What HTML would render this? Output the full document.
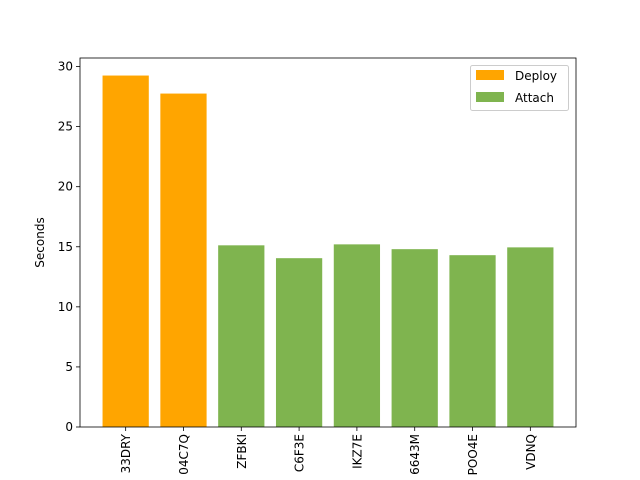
<!DOCTYPE html>
<html><head><meta charset="utf-8"><style>body{margin:0;background:#fff;overflow:hidden}svg{display:block;font-family:"DejaVu Sans","Liberation Sans",sans-serif}</style></head>
<body>
<svg id="chart" width="640" height="480" viewBox="0 0 640 480"></svg>
<script>
const categories = ["33DRY","04C7Q","ZFBKI","C6F3E","IKZ7E","6643M","POO4E","VDNQ"];
const values = [29.25, 27.75, 15.12, 14.05, 15.2, 14.8, 14.3, 14.95];
const groups = ["Deploy","Deploy","Attach","Attach","Attach","Attach","Attach","Attach"];
const yTicks = [0,5,10,15,20,25,30];
const legendLabels = ["Deploy","Attach"];
const colors = {Deploy:"#ffa500", Attach:"#7fb44f"};

const NS="http://www.w3.org/2000/svg";
const svg=document.getElementById('chart');
const L=80,R=576,T=58,B=427;
const xmin=-0.79,xmax=categories.length-1+0.79;
const ymax=30.71;
function xs(i){return L+(i-xmin)/(xmax-xmin)*(R-L);}
function ys(v){return B-v/ymax*(B-T);}
function el(tag,attrs,parent){const e=document.createElementNS(NS,tag);for(const k in attrs)e.setAttribute(k,attrs[k]);(parent||svg).appendChild(e);return e;}
const bw=0.8*(R-L)/(xmax-xmin);
categories.forEach((c,i)=>{
  const r=el('rect',{x:xs(i)-bw/2,y:ys(values[i]),width:bw,height:B-ys(values[i]),fill:colors[groups[i]]});
  
  
  el('line',{x1:xs(i),x2:xs(i),y1:B,y2:B+4,stroke:'#000','stroke-width':0.8});
  const t=el('text',{x:0,y:0,transform:`translate(${xs(i)+4.5},${B+7}) rotate(-90)`,'text-anchor':'end','font-size':12});
  t.textContent=c;
  
  
});
yTicks.forEach(v=>{
  el('line',{x1:L-4,x2:L,y1:ys(v),y2:ys(v),stroke:'#000','stroke-width':0.8});
  const t=el('text',{x:L-7,y:ys(v)+4,'text-anchor':'end','font-size':12});
  t.textContent=v;
  
  
});
const frame=el('rect',{x:L,y:T,width:R-L,height:B-T,fill:'none',stroke:'#000','stroke-width':0.8});


const yl=el('text',{x:0,y:0,transform:`translate(44,${(T+B)/2}) rotate(-90)`,'text-anchor':'middle','font-size':12});
yl.textContent='Seconds';


const lg=el('g',{});


el('rect',{x:470.5,y:65.5,width:98,height:45,rx:2,fill:'#fff',stroke:'#ccc'},lg);
legendLabels.forEach((s,j)=>{
  const y=70+j*22;
  el('rect',{x:476,y:y,width:28,height:10,fill:colors[s]},lg);
  const t=el('text',{x:515,y:y+10,'font-size':12},lg);
  t.textContent=s;
  
  
});
</script>
</body></html>
